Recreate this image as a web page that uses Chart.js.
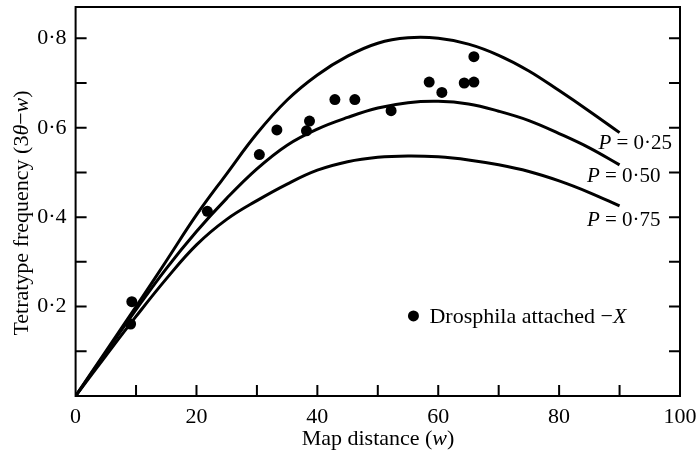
<!DOCTYPE html>
<html>
<head>
<meta charset="utf-8">
<script src="https://cdn.jsdelivr.net/npm/chart.js@4.4.1/dist/chart.umd.min.js"></script>
<style>
html,body{margin:0;padding:0;background:#fff;}
#wrap{width:700px;height:452px;position:relative;}
</style>
</head>
<body>
<div id="wrap"><canvas id="c" width="700" height="452"></canvas></div>
<script>
// ---- data ----
const curveX = [0,5,10,15,20,25,30,35,40,45,50,55,60,65,70,75,80,85,90];
const curveP025 = [0,0.100,0.200,0.302,0.405,0.497,0.587,0.662,0.718,0.760,0.789,0.801,0.800,0.787,0.762,0.727,0.683,0.637,0.589];
const curveP050 = [0,0.097,0.193,0.285,0.368,0.442,0.508,0.561,0.597,0.623,0.644,0.656,0.659,0.653,0.637,0.616,0.587,0.555,0.517];
const curveP075 = [0,0.090,0.178,0.262,0.338,0.395,0.437,0.474,0.505,0.524,0.534,0.537,0.535,0.528,0.517,0.502,0.481,0.455,0.425];
const curveNames = ["P = 0·25","P = 0·50","P = 0·75"];
const obsX = [9.3,9.1,21.8,30.4,33.3,38.7,38.2,42.9,46.2,52.2,58.5,60.6,64.3,65.9,65.9];
const obsY = [0.211,0.161,0.413,0.540,0.595,0.615,0.593,0.663,0.663,0.638,0.702,0.679,0.700,0.702,0.759];
const obsName = "Drosphila attached −X";
const xTicks = [0,10,20,30,40,50,60,70,80,90,100];
const xTickLabels = ["0","","20","","40","","60","","80","","100"];
const yTicks = [0,0.1,0.2,0.3,0.4,0.5,0.6,0.7,0.8];
const yTickLabels = ["","","0·2","","0·4","","0·6","","0·8"];
const xTitle = "Map distance (w)";
const yTitle = "Tetratype frequency (3θ−w)";

const FONT = '"Liberation Serif", "DejaVu Serif", serif';

function pts(xs, ys){ return xs.map((x,i)=>({x:x, y:ys[i]})); }

function drawRich(ctx, segs, x, y, align){
  let total = 0;
  segs.forEach(s=>{ ctx.font = s[1]; total += ctx.measureText(s[0]).width; });
  let cx = align==='center' ? x - total/2 : x;
  ctx.textAlign = 'left';
  segs.forEach(s=>{ ctx.font = s[1]; ctx.fillText(s[0], cx, y); cx += ctx.measureText(s[0]).width; });
}

const N = '22px ' + FONT, I = 'italic 22px ' + FONT;
const N2 = '21px ' + FONT, I2 = 'italic 21px ' + FONT;

const decor = {
  id: 'decor',
  afterDraw(chart){
    const ctx = chart.ctx, a = chart.chartArea;
    const xs = chart.scales.x, ys = chart.scales.y;
    ctx.save();
    ctx.strokeStyle = '#000'; ctx.lineWidth = 2;
    ctx.strokeRect(a.left, a.top, a.right - a.left, a.bottom - a.top);
    const L = 11;
    ctx.beginPath();
    xTicks.forEach(v=>{ if(v<=0||v>=100) return; const px = xs.getPixelForValue(v); ctx.moveTo(px, a.bottom); ctx.lineTo(px, a.bottom - L); });
    yTicks.forEach(v=>{ if(v<=0) return; const py = ys.getPixelForValue(v);
      ctx.moveTo(a.left, py); ctx.lineTo(a.left + L, py);
      ctx.moveTo(a.right, py); ctx.lineTo(a.right - L, py); });
    ctx.stroke();
    ctx.fillStyle = '#000'; ctx.textBaseline = 'middle';
    const xi = xTitle.indexOf('(');
    drawRich(ctx, [[xTitle.slice(0, xi+1), N], ['w', I], [')', N]], 378, 439, 'center');
    ctx.save();
    ctx.translate(22, 213);
    ctx.rotate(-Math.PI/2);
    drawRich(ctx, [['Tetratype frequency (3', N], ['θ', I], ['−', N], ['w', I], [')', N]], 0, 0, 'center');
    ctx.restore();
    const labPos = [[86.5,0.565],[84.6,0.491],[84.6,0.393]];
    curveNames.forEach((nm,i)=>{
      const px = xs.getPixelForValue(labPos[i][0]), py = ys.getPixelForValue(labPos[i][1]);
      drawRich(ctx, [['P', I2], [nm.slice(1), N2]], px, py, 'left');
    });
    const lx = xs.getPixelForValue(55.9), ly = ys.getPixelForValue(0.179);
    ctx.beginPath(); ctx.arc(lx, ly, 5.5, 0, Math.PI*2); ctx.fill();
    const k = obsName.indexOf('X');
    drawRich(ctx, [[obsName.slice(0,k), N], ['X', I]], lx + 16, ly + 1, 'left');
    ctx.restore();
  }
};

const lineDs = (data) => ({
  type: 'line', data: pts(curveX, data), showLine: true, borderColor: '#000', borderWidth: 3,
  pointRadius: 0, fill: false, tension: 0.4, order: 2
});

new Chart(document.getElementById('c'), {
  type: 'scatter',
  data: {
    datasets: [
      lineDs(curveP025), lineDs(curveP050), lineDs(curveP075),
      { data: pts(obsX, obsY), backgroundColor: '#000', borderColor: '#000', pointRadius: 5.5, pointHoverRadius: 5.5, borderWidth: 0, order: 1 }
    ]
  },
  options: {
    responsive: false, animation: false, events: [],
    layout: { padding: { top: 7, right: 20, left: 0, bottom: 0 } },
    plugins: { legend: { display: false }, tooltip: { enabled: false } },
    scales: {
      x: {
        type: 'linear', min: 0, max: 100,
        afterBuildTicks: s => { s.ticks = xTicks.map(v=>({value:v})); },
        afterFit: s => { s.height = 56; s.paddingLeft = 0; s.paddingRight = 0; },
        grid: { display: false, drawTicks: false },
        border: { display: false },
        ticks: { autoSkip: false, maxRotation: 0, padding: 8, color: '#000', font: { family: FONT, size: 22 },
                 callback: (v) => { const i = xTicks.indexOf(v); return i>=0 ? xTickLabels[i] : ''; } }
      },
      y: {
        type: 'linear', min: 0, max: 0.87,
        afterBuildTicks: s => { s.ticks = yTicks.map(v=>({value:v})); },
        afterFit: s => { s.width = 75.6; s.paddingTop = 0; s.paddingBottom = 0; },
        grid: { display: false, drawTicks: false },
        border: { display: false },
        ticks: { autoSkip: false, padding: 9, color: '#000', font: { family: FONT, size: 22 },
                 callback: (v) => { const i = yTicks.findIndex(t=>Math.abs(t-v)<1e-6); return i>=0 ? yTickLabels[i] : ''; } }
      }
    }
  },
  plugins: [decor]
});
</script>
</body>
</html>
